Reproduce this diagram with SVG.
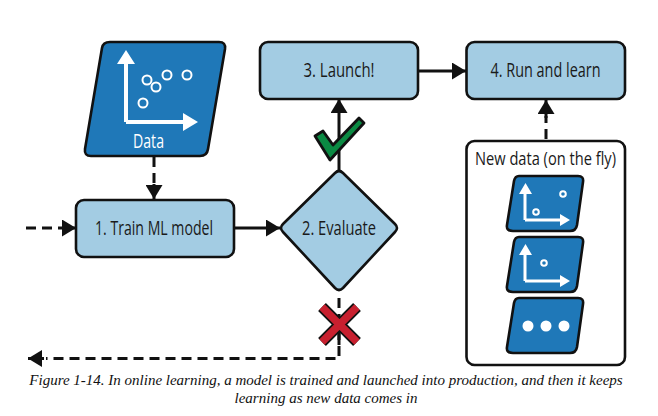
<svg xmlns="http://www.w3.org/2000/svg" width="658" height="416" viewBox="0 0 658 416">
<style>
.box{fill:#a3cce3;stroke:#111;stroke-width:2.6}
.dat{fill:#1f78b8;stroke:#111;stroke-width:2.6;stroke-linejoin:round}
.lbl{font-family:"Open Sans","Noto Sans",sans-serif;font-size:20px;fill:#1a1a1a;text-anchor:middle}
.wl{stroke:#fff;fill:none;stroke-width:3}
.wh{fill:#fff}
.dot{fill:#1f78b8;stroke:#fff;stroke-width:2}
.c{fill:none;stroke:#111;stroke-width:3}
.d{stroke-dasharray:10 6}
.cap{font-family:"Liberation Serif",serif;font-style:italic;font-size:15px;fill:#111;text-anchor:middle}
</style>
<defs>
<marker id="a" markerUnits="userSpaceOnUse" markerWidth="17" markerHeight="17" refX="14" refY="8.500" orient="auto"><path d="M0 0L14 8.500L0 17Z" fill="#111"/></marker>
<path id="par" class="dat" d="M519 176H578Q584 176 583 182L577 225Q576 231 570 231H513Q506 231 507 225L514 181Q515 176 519 176Z"/>
</defs>
<rect width="658" height="416" fill="#fff"/>
<g id="connectors">
<path class="c d" d="M154 157V186"/>
<path class="c" d="M154 184V199" marker-end="url(#a)"/>
<path class="c d" d="M26 228H64"/>
<path class="c" d="M62 228H76" marker-end="url(#a)"/>
<path class="c" d="M234 228H280" marker-end="url(#a)"/>
<path class="c" d="M339 170V99" marker-end="url(#a)"/>
<path class="c" d="M418 71H466" marker-end="url(#a)"/>
<path class="c d" d="M546 139V116"/>
<path class="c" d="M546 118V100" marker-end="url(#a)"/>
<path class="c" stroke-dasharray="10 6" d="M339 298V358.500H46"/>
<path class="c" d="M44 358.500H28" marker-end="url(#a)"/>
</g>
<g id="data">
<path class="dat" d="M110 42H219Q226 42 225 49L208 149Q207 156 200 156H91Q84 156 85 149L102 48Q103 42 110 42Z"/>
<path d="M126 122V62M126 122H185" fill="none" stroke="#fff" stroke-width="4"/>
<path class="wh" d="M117 64L126 50L135 64ZM183 113L198 122L183 131Z"/>
<circle class="dot" cx="147" cy="80" r="4.500"/><circle class="dot" cx="156" cy="87" r="4.500"/><circle class="dot" cx="167" cy="75" r="4.500"/><circle class="dot" cx="187" cy="75" r="4.500"/><circle class="dot" cx="143" cy="103" r="4.500"/>
<text class="lbl" x="148.500" y="147.500" style="fill:#fff" textLength="31" lengthAdjust="spacingAndGlyphs">Data</text>
</g>
<g id="train"><rect class="box" x="76" y="200" width="158" height="57" rx="8"/>
<text class="lbl" x="154" y="235" textLength="118" lengthAdjust="spacingAndGlyphs">1. Train ML model</text></g>
<g id="evaluate"><path class="box" stroke-linejoin="round" d="M335 173Q339 169 343 173L395 224Q399 228 395 232L343 288Q339 292 335 288L283 232Q279 228 283 224Z"/>
<text class="lbl" x="339" y="235" textLength="74" lengthAdjust="spacingAndGlyphs">2. Evaluate</text></g>
<g id="launch"><rect class="box" x="260" y="42" width="158" height="57" rx="8"/>
<text class="lbl" x="339" y="77" textLength="71" lengthAdjust="spacingAndGlyphs">3. Launch!</text></g>
<g id="run"><rect class="box" x="466.500" y="42" width="158.500" height="57" rx="8"/>
<text class="lbl" x="545.500" y="77" textLength="110" lengthAdjust="spacingAndGlyphs">4. Run and learn</text></g>
<g id="check"><path d="M315 136L323 131L333 145L359 118L364 123L330 160Z" fill="#0b8a43" stroke="#111" stroke-width="2.800" stroke-linejoin="round"/></g>
<g id="cross"><path d="M322 307L357 342M357 307L322 342" fill="none" stroke="#111" stroke-width="11"/><path d="M322 307L357 342M357 307L322 342" fill="none" stroke="#c8202f" stroke-width="7.500"/><path d="M339 332V345" class="c"/></g>
<g id="newdata"><rect x="466.500" y="141" width="158.500" height="224" rx="8" fill="#fff" stroke="#111" stroke-width="2.600"/>
<text class="lbl" x="545.500" y="165" style="font-size:18px" textLength="141" lengthAdjust="spacingAndGlyphs">New data (on the fly)</text>
<g id="d1"><use href="#par"/>
<path class="wl" d="M525 220V190M525 220H562"/><path class="wh" d="M519 194L525.500 183L532 194ZM560 214L570 220L560 226Z"/>
<circle class="dot" cx="536" cy="212" r="2.800"/><circle class="dot" cx="563" cy="194" r="2.800"/></g>
<g id="d2"><use href="#par" y="61"/>
<path class="wl" d="M525 281V252M525 281H562"/><path class="wh" d="M519 255L525.500 244L532 255ZM560 275L570 281L560 287Z"/>
<circle class="dot" cx="544" cy="263" r="2.800"/></g>
<g id="d3"><use href="#par" y="122"/>
<circle class="wh" cx="528" cy="326" r="5.500"/><circle class="wh" cx="546" cy="326" r="5.500"/><circle class="wh" cx="564" cy="326" r="5.500"/></g>
</g>
<text class="cap" x="326" y="385">Figure 1-14. In online learning, a model is trained and launched into production, and then it keeps</text>
<text class="cap" x="326" y="402.500">learning as new data comes in</text>
</svg>
